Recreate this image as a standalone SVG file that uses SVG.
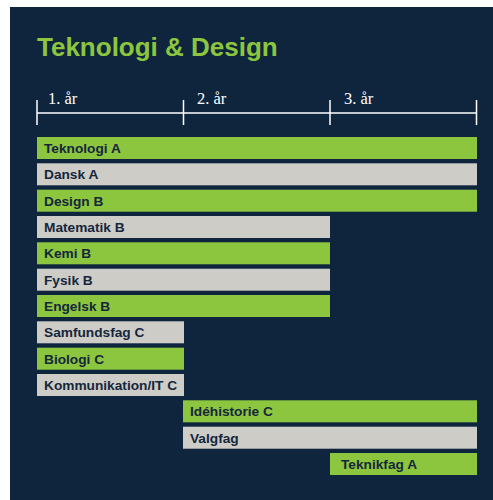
<svg xmlns="http://www.w3.org/2000/svg" width="493" height="500" viewBox="0 0 493 500">
<style>
.g{fill:#8cc63f}
.s{fill:#cdccc6}
.lbl{font-family:"Liberation Sans",Arial,sans-serif;font-weight:bold;font-size:13.7px;fill:#15263d}
.yr{font-family:"Liberation Serif","Times New Roman",serif;font-size:16.5px;fill:#ffffff}
.ax{stroke:#ffffff;stroke-width:1.5;fill:none}
</style>
<rect x="0" y="0" width="493" height="500" fill="#ffffff"/>
<rect x="10" y="7" width="483" height="493" fill="#0f253e"/>
<text x="37" y="56" font-family="'Liberation Sans',Arial,sans-serif" font-weight="bold" font-size="26" fill="#8cc63f">Teknologi &amp; Design</text>
<g id="axis">
<path class="ax" d="M37,113H477M37,100V125M183.5,100V125M330,100V125M476.5,100V125"/>
<text class="yr" x="48" y="104">1. år</text>
<text class="yr" x="197" y="104">2. år</text>
<text class="yr" x="344" y="104">3. år</text>
</g>
<g id="connectors"></g>
<g id="n1"><rect class="g" x="37" y="137" width="440" height="22"/><text class="lbl" x="44" y="153">Teknologi A</text></g>
<g id="n2"><rect class="s" x="37" y="163.3" width="440" height="22"/><text class="lbl" x="44" y="179.3">Dansk A</text></g>
<g id="n3"><rect class="g" x="37" y="189.7" width="440" height="22"/><text class="lbl" x="44" y="205.7">Design B</text></g>
<g id="n4"><rect class="s" x="37" y="216" width="293" height="22"/><text class="lbl" x="44" y="232">Matematik B</text></g>
<g id="n5"><rect class="g" x="37" y="242.3" width="293" height="22"/><text class="lbl" x="44" y="258.3">Kemi B</text></g>
<g id="n6"><rect class="s" x="37" y="268.7" width="293" height="22"/><text class="lbl" x="44" y="284.7">Fysik B</text></g>
<g id="n7"><rect class="g" x="37" y="295" width="293" height="22"/><text class="lbl" x="44" y="311">Engelsk B</text></g>
<g id="n8"><rect class="s" x="37" y="321.3" width="147" height="22"/><text class="lbl" x="44" y="337.3">Samfundsfag C</text></g>
<g id="n9"><rect class="g" x="37" y="347.7" width="147" height="22"/><text class="lbl" x="44" y="363.7">Biologi C</text></g>
<g id="n10"><rect class="s" x="37" y="374" width="147" height="22"/><text class="lbl" x="44" y="390">Kommunikation/IT C</text></g>
<g id="n11"><rect class="g" x="183" y="400.3" width="294" height="22"/><text class="lbl" x="190" y="416.3">Idéhistorie C</text></g>
<g id="n12"><rect class="s" x="183" y="426.7" width="294" height="22"/><text class="lbl" x="190" y="442.7">Valgfag</text></g>
<g id="n13"><rect class="g" x="330" y="453" width="147" height="22"/><text class="lbl" x="341" y="469">Teknikfag A</text></g>
</svg>
